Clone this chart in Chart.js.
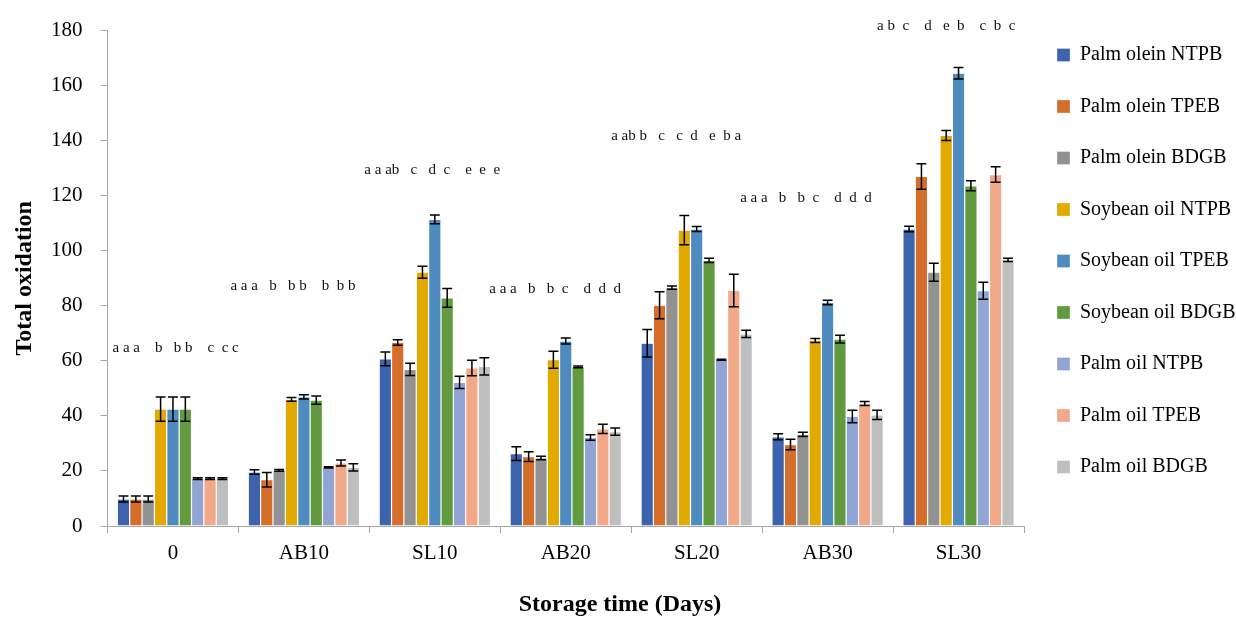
<!DOCTYPE html>
<html>
<head>
<meta charset="utf-8">
<script src="https://cdn.jsdelivr.net/npm/chart.js@4.4.0/dist/chart.umd.min.js"></script>
<style>
html,body{margin:0;padding:0;background:#fff;}
#wrap{width:1236px;height:619px;}
</style>
</head>
<body>
<div id="wrap"><canvas id="c" width="1236" height="619"></canvas></div>
<script>
// ---- data ----
const categories = ['0', 'AB10', 'SL10', 'AB20', 'SL20', 'AB30', 'SL30'];
const seriesNames = ['Palm olein NTPB', 'Palm olein TPEB', 'Palm olein BDGB',
  'Soybean oil NTPB', 'Soybean oil TPEB', 'Soybean oil BDGB',
  'Palm oil NTPB', 'Palm oil TPEB', 'Palm oil BDGB'];

const palmOleinNTPB = [9.8, 19.6, 60.7, 26.3, 66.4, 32.4, 107.9];
const palmOleinTPEB = [9.8, 16.8, 66.7, 25.2, 80.2, 29.6, 127.0];
const palmOleinBDGB = [9.8, 20.2, 56.9, 24.7, 86.6, 33.3, 92.2];
const soybeanNTPB   = [42.5, 46.0, 92.2, 60.4, 107.5, 67.4, 141.9];
const soybeanTPEB   = [42.5, 46.9, 111.4, 67.2, 107.9, 81.2, 164.5];
const soybeanBDGB   = [42.5, 45.7, 82.9, 57.8, 96.5, 67.9, 123.6];
const palmOilNTPB   = [17.2, 21.3, 52.2, 32.2, 60.4, 39.8, 85.5];
const palmOilTPEB   = [17.2, 22.9, 57.4, 35.3, 85.6, 44.5, 127.7];
const palmOilBDGB   = [17.2, 21.3, 58.0, 34.3, 69.8, 40.4, 96.7];

const errPalmOleinNTPB = [1.1, 0.8, 2.5, 2.5, 5.0, 1.1, 1.0];
const errPalmOleinTPEB = [1.1, 2.6, 1.0, 1.8, 4.9, 1.9, 4.6];
const errPalmOleinBDGB = [1.1, 0.3, 2.2, 0.6, 0.6, 0.8, 3.3];
const errSoybeanNTPB   = [4.4, 0.7, 2.2, 3.1, 5.3, 0.7, 1.8];
const errSoybeanTPEB   = [4.4, 0.8, 1.6, 1.1, 0.9, 0.8, 2.1];
const errSoybeanBDGB   = [4.4, 1.5, 3.4, 0.3, 0.8, 1.4, 1.8];
const errPalmOilNTPB   = [0.3, 0.2, 2.2, 1.0, 0.2, 2.3, 3.1];
const errPalmOilTPEB   = [0.3, 1.1, 2.8, 1.7, 5.9, 0.7, 2.8];
const errPalmOilBDGB   = [0.3, 1.3, 3.1, 1.3, 1.3, 1.7, 0.6];

// significance letters above each group, and the value level they sit at
const groupLetters = [
  'a a a    b   b b    c  c c',
  'a a a   b   b b    b  b b',
  'a a ab   c   d  c    e  e  e',
  'a a a   b   b  c    d  d  d',
  'a ab b   c   c  d   e  b a',
  'a a a   b   b  c    d  d  d',
  'a b  c    d   e  b    c  b  c'
];
const letterLevels = [64.8, 87.1, 129.2, 86.1, 141.8, 119.2, 181.8];

const yTicks = {min: 0, max: 180, step: 20};

// ---- styles ----
const colors = ['#3D63AD', '#D56E2B', '#929292', '#E2AA00', '#4F8BBF', '#629A3F', '#91A4D4', '#F1A98A', '#BFBFBF'];
const letterOffsetsPx = [5, -8, -5, -11, -20, -22, -16];
const FONT = '"Liberation Serif", "DejaVu Serif", serif';

const values = [palmOleinNTPB, palmOleinTPEB, palmOleinBDGB, soybeanNTPB, soybeanTPEB, soybeanBDGB, palmOilNTPB, palmOilTPEB, palmOilBDGB];
const errors = [errPalmOleinNTPB, errPalmOleinTPEB, errPalmOleinBDGB, errSoybeanNTPB, errSoybeanTPEB, errSoybeanBDGB, errPalmOilNTPB, errPalmOilTPEB, errPalmOilBDGB];

const datasets = seriesNames.map((name, i) => ({
  label: name,
  data: values[i],
  backgroundColor: colors[i],
  borderColor: 'rgba(255,255,255,0.5)',
  borderWidth: 0.6,
  categoryPercentage: 0.85,
  barPercentage: 1.0
}));

const errorBarPlugin = {
  id: 'errorBars',
  afterDatasetsDraw(chart) {
    const ctx = chart.ctx;
    const y = chart.scales.y;
    ctx.save();
    ctx.strokeStyle = '#000';
    ctx.lineWidth = 1.5;
    chart.data.datasets.forEach((ds, i) => {
      const meta = chart.getDatasetMeta(i);
      meta.data.forEach((bar, j) => {
        const v = values[i][j], e = errors[i][j];
        const yt = y.getPixelForValue(v + e);
        const yb = y.getPixelForValue(v - e);
        const half = bar.width * 0.4;
        ctx.beginPath();
        ctx.moveTo(bar.x, yt); ctx.lineTo(bar.x, yb);
        ctx.moveTo(bar.x - half, yt); ctx.lineTo(bar.x + half, yt);
        ctx.moveTo(bar.x - half, yb); ctx.lineTo(bar.x + half, yb);
        ctx.stroke();
      });
    });
    ctx.restore();
  }
};

const lettersPlugin = {
  id: 'letters',
  afterDraw(chart) {
    const ctx = chart.ctx;
    const xs = chart.scales.x, ys = chart.scales.y;
    const gw = xs.width / categories.length;
    ctx.save();
    ctx.font = '15px ' + FONT;
    ctx.fillStyle = '#111';
    ctx.textAlign = 'left';
    ctx.textBaseline = 'middle';
    groupLetters.forEach((t, i) => {
      const x = xs.getPixelForValue(i) - gw / 2 + letterOffsetsPx[i];
      const yy = ys.getPixelForValue(letterLevels[i]);
      ctx.fillText(t, x, yy);
    });
    ctx.restore();
  }
};

const legendPlacePlugin = {
  id: 'legendPlace',
  afterLayout(chart) {
    const lg = chart.legend;
    if (!lg) return;
    const h = lg.bottom - lg.top, w = lg.right - lg.left;
    lg.left = 1025.5; lg.right = lg.left + w;
    lg.top = 13.5; lg.bottom = lg.top + h;
  }
};

new Chart(document.getElementById('c'), {
  type: 'bar',
  data: {labels: categories, datasets},
  options: {
    responsive: false,
    animation: false,
    devicePixelRatio: 1,
    layout: {padding: {left: 4, top: 26, right: 0, bottom: 0}},
    scales: {
      x: {
        grid: {display: true, drawOnChartArea: false, drawTicks: true, tickLength: 7, color: '#A6A6A6', offset: true},
        border: {color: '#A6A6A6', width: 1},
        ticks: {font: {family: FONT, size: 21}, color: '#000', padding: 8},
        afterFit(s) { s.height = 64.2; }
      },
      y: {
        min: yTicks.min, max: yTicks.max,
        ticks: {stepSize: yTicks.step, font: {family: FONT, size: 21}, color: '#000', padding: 18},
        grid: {display: true, drawOnChartArea: false, drawTicks: true, tickLength: 7, color: '#A6A6A6'},
        border: {color: '#A6A6A6', width: 1},
        title: {display: true, text: 'Total oxidation', color: '#000', font: {family: FONT, size: 24, weight: 'bold'}, padding: {top: 6, bottom: 0}},
        afterFit(s) { s.width = 103.5; }
      }
    },
    plugins: {
      legend: {
        position: 'right',
        align: 'start',
        maxWidth: 212,
        labels: {boxWidth: 13, boxHeight: 13, padding: 31.5, color: '#000', font: {family: FONT, size: 20}}
      },
      title: {
        display: true,
        position: 'bottom',
        text: 'Storage time (Days)',
        color: '#000',
        font: {family: FONT, size: 24, weight: 'bold'},
        padding: {top: 0, bottom: 0}
      },
      tooltip: {enabled: false}
    }
  },
  plugins: [errorBarPlugin, lettersPlugin, legendPlacePlugin]
});
</script>
</body>
</html>
